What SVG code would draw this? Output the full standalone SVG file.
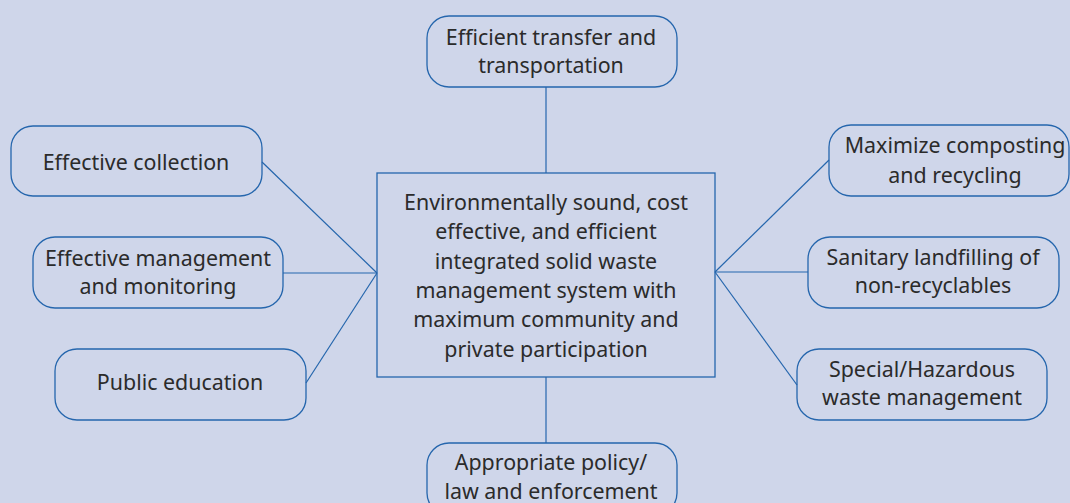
<svg xmlns="http://www.w3.org/2000/svg" width="1070" height="503" viewBox="0 0 1070 503">
<style>
.n{fill:none;stroke:#2566ad;stroke-width:1.3}
.c{stroke:#2566ad;stroke-width:1.2;fill:none}
text{font-family:"Noto Sans","Open Sans",sans-serif;font-size:21.4px;fill:#2b2b2b;text-anchor:middle}
</style>
<rect width="1070" height="503" fill="#cfd6ea"/>
<g id="connectors">
<line class="c" x1="546" y1="87" x2="546" y2="173"/>
<line class="c" x1="546" y1="377" x2="546" y2="443"/>
<line class="c" x1="262" y1="162" x2="377" y2="273"/>
<line class="c" x1="283" y1="273" x2="377" y2="273"/>
<line class="c" x1="306" y1="383" x2="377" y2="273"/>
<line class="c" x1="715" y1="272" x2="829" y2="160"/>
<line class="c" x1="715" y1="272" x2="808" y2="272"/>
<line class="c" x1="715" y1="272" x2="797" y2="385"/>
</g>
<g id="center">
<rect class="n" x="377" y="173" width="338" height="204"/>
<text x="546" y="210">Environmentally sound, cost</text>
<text x="546" y="239">effective, and efficient</text>
<text x="546" y="269">integrated solid waste</text>
<text x="546" y="298">management system with</text>
<text x="546" y="327">maximum community and</text>
<text x="546" y="357">private participation</text>
</g>
<g id="top">
<rect class="n" x="427" y="16" width="250" height="71" rx="22"/>
<text x="551" y="45">Efficient transfer and</text>
<text x="551" y="73">transportation</text>
</g>
<g id="bottom">
<rect class="n" x="427" y="443" width="250" height="72" rx="22"/>
<text x="551" y="470">Appropriate policy/</text>
<text x="551" y="499">law and enforcement</text>
</g>
<g id="collection">
<rect class="n" x="11" y="126" width="251" height="70" rx="22"/>
<text x="136" y="170">Effective collection</text>
</g>
<g id="management">
<rect class="n" x="33" y="237" width="250" height="71" rx="22"/>
<text x="158" y="266">Effective management</text>
<text x="158" y="294">and monitoring</text>
</g>
<g id="education">
<rect class="n" x="55" y="349" width="251" height="71" rx="22"/>
<text x="180" y="390">Public education</text>
</g>
<g id="composting">
<rect class="n" x="829" y="125" width="240" height="71" rx="22"/>
<text x="955" y="153">Maximize composting</text>
<text x="955" y="183">and recycling</text>
</g>
<g id="landfill">
<rect class="n" x="808" y="237" width="251" height="71" rx="22"/>
<text x="933" y="265">Sanitary landfilling of</text>
<text x="933" y="293">non-recyclables</text>
</g>
<g id="hazardous">
<rect class="n" x="797" y="349" width="250" height="71" rx="22"/>
<text x="922" y="377">Special/Hazardous</text>
<text x="922" y="405">waste management</text>
</g>
</svg>
